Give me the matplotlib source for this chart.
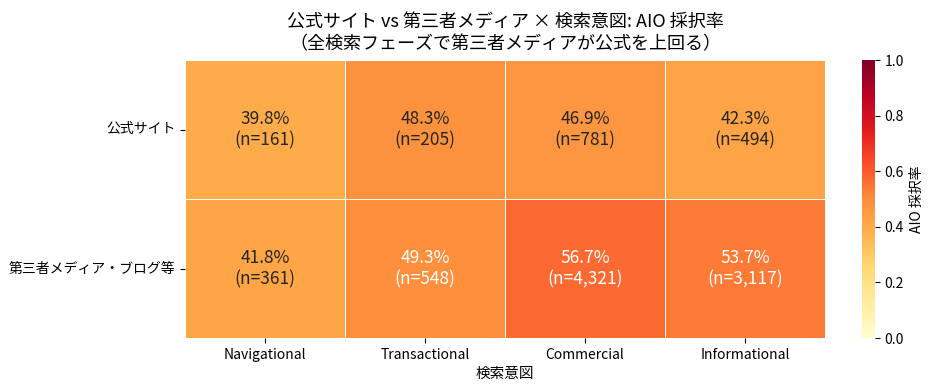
import numpy as np
import seaborn as sns
from matplotlib import pyplot as plt

plt.rcParams['font.family'] = ['Noto Sans CJK JP', 'DejaVu Sans']

rows = ['公式サイト', '第三者メディア・ブログ等']
intents = ['Navigational', 'Transactional', 'Commercial', 'Informational']
rate_official = [39.8, 48.3, 46.9, 42.3]
rate_media = [41.8, 49.3, 56.7, 53.7]
n_official = [161, 205, 781, 494]
n_media = [361, 548, 4321, 3117]

rates = np.array([rate_official, rate_media]) / 100
ns = [n_official, n_media]
labels = [[f'{r * 100:.1f}%\n(n={n:,})' for r, n in zip(rates[i], ns[i])] for i in range(2)]

W, H = 934, 390
fig = plt.figure(figsize=(W / 100, H / 100), dpi=100)
ax = fig.add_axes([185 / W, 52 / H, 640 / W, 278 / H])
cax = fig.add_axes([862 / W, 52 / H, 13 / W, 278 / H])
sns.heatmap(rates, annot=np.array(labels), fmt='', cmap='YlOrRd', vmin=0, vmax=1,
            linewidths=0.5, linecolor='white', xticklabels=intents, yticklabels=rows,
            annot_kws={'fontsize': 12.5}, cbar_ax=cax, ax=ax)
cax.set_ylabel('AIO 採択率', fontsize=10)
cax.tick_params(labelsize=10)
ax.set_yticklabels(rows, rotation=0, fontsize=10)
ax.set_xticklabels(intents, rotation=0, fontsize=10)
ax.set_xlabel('検索意図', fontsize=10.5)
ax.set_ylabel('')
ax.set_title('公式サイト vs 第三者メディア × 検索意図: AIO 採択率\n（全検索フェーズで第三者メディアが公式を上回る）',
             fontsize=13, pad=8)
plt.savefig('out.png')
